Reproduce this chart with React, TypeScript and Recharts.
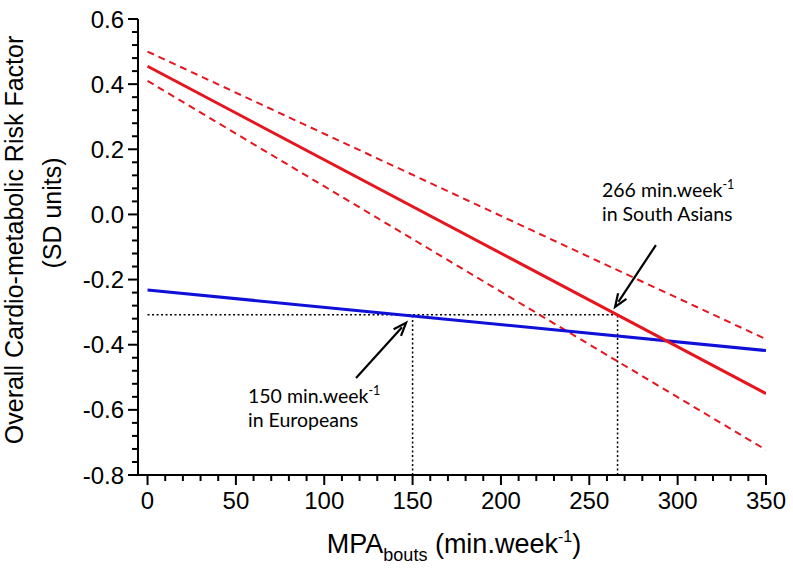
import React from 'react';
import { LineChart, Line, XAxis, YAxis, ReferenceLine } from 'recharts';

// ---- data ----
const xEnds = [0, 350];
const saFit = [0.455, -0.55];
const saUpper = [0.5, -0.383];
const saLower = [0.41, -0.723];
const euFit = [-0.232, -0.418];

const xMajorTicks = [0, 50, 100, 150, 200, 250, 300, 350];
const yMajorTicks = [-0.8, -0.6, -0.4, -0.2, 0, 0.2, 0.4, 0.6];
const yTickLabels = ['-0.8', '-0.6', '-0.4', '-0.2', '0.0', '0.2', '0.4', '0.6'];

const threshold = -0.308;
const euMinutes = 150;
const saMinutes = 266;

const euArrowTail = { x: 118, y: -0.502 };
const euArrowHead = { x: 146.3, y: -0.333 };
const saArrowTail = { x: 287.7, y: -0.094 };
const saArrowHead = { x: 264.6, y: -0.284 };

const data = xEnds.map((x, i) => ({
  x,
  saFit: saFit[i],
  saUpper: saUpper[i],
  saLower: saLower[i],
  euFit: euFit[i],
}));

function subdivide(majors: number[], n: number): number[] {
  const out: number[] = [];
  for (let i = 0; i < majors.length - 1; i++) {
    for (let k = 0; k < n; k++) {
      out.push(Number((majors[i] + ((majors[i + 1] - majors[i]) * k) / n).toFixed(5)));
    }
  }
  out.push(majors[majors.length - 1]);
  return out;
}

const xTicks = subdivide(xMajorTicks, 5);
const yTicks = subdivide(yMajorTicks, 5);

const AXIS_FONT = '"Liberation Sans", Arial, sans-serif';
const NOTE_FONT = 'Lato, "Open Sans", sans-serif';

const majorIndex = (arr: number[], v: number) => arr.findIndex((m) => Math.abs(m - v) < 1e-6);

const XTick = (props: any) => {
  const { x, y, payload } = props;
  const idx = majorIndex(xMajorTicks, payload.value);
  const major = idx >= 0;
  return (
    <g>
      <line x1={x} x2={x} y1={y} y2={y + (major ? 10 : 6)} stroke="#000" strokeWidth={2} />
      {major && (
        <text x={x} y={y + 34} textAnchor="middle" fontSize={24} fontFamily={AXIS_FONT} fill="#000">
          {xMajorTicks[idx]}
        </text>
      )}
    </g>
  );
};

const YTick = (props: any) => {
  const { x, y, payload } = props;
  const idx = majorIndex(yMajorTicks, payload.value);
  const major = idx >= 0;
  return (
    <g>
      <line x1={x} x2={x - (major ? 10 : 6)} y1={y} y2={y} stroke="#000" strokeWidth={2} />
      {major && (
        <text x={x - 14} y={y} dy="0.36em" textAnchor="end" fontSize={24} fontFamily={AXIS_FONT} fill="#000">
          {yTickLabels[idx]}
        </text>
      )}
    </g>
  );
};

const ArrowShape = (props: any) => {
  const { x1, y1, x2, y2 } = props;
  const dx = x2 - x1;
  const dy = y2 - y1;
  const len = Math.sqrt(dx * dx + dy * dy) || 1;
  const ux = dx / len;
  const uy = dy / len;
  const hl = 13;
  const hw = 5;
  const bx = x2 - ux * hl;
  const by = y2 - uy * hl;
  return (
    <g>
      <line x1={x1} y1={y1} x2={x2 - ux * 6} y2={y2 - uy * 6} stroke="#000" strokeWidth={2.2} />
      <polyline
        points={`${bx - uy * hw},${by + ux * hw} ${x2},${y2} ${bx + uy * hw},${by - ux * hw}`}
        fill="none"
        stroke="#000"
        strokeWidth={2.2}
      />
    </g>
  );
};

export default function App() {
  return (
    <div style={{ position: 'absolute', left: 0, top: 0, width: 793, height: 574, background: '#fff' }}>
      <LineChart width={793} height={574} data={data} margin={{ top: 19, right: 27, bottom: 0, left: 0 }}>
        <XAxis
          dataKey="x"
          type="number"
          domain={[-5.4, 350]}
          allowDataOverflow
          ticks={xTicks}
          interval={0}
          tick={<XTick />}
          tickLine={false}
          tickSize={0}
          tickMargin={0}
          height={99}
          axisLine={{ stroke: '#000', strokeWidth: 2 }}
        />
        <YAxis
          type="number"
          domain={[-0.8, 0.6]}
          allowDataOverflow
          ticks={yTicks}
          interval={0}
          tick={<YTick />}
          tickLine={false}
          tickSize={0}
          tickMargin={0}
          width={138}
          axisLine={{ stroke: '#000', strokeWidth: 2 }}
        />
        <ReferenceLine
          segment={[{ x: 0, y: threshold }, { x: saMinutes, y: threshold }]}
          stroke="#000"
          strokeWidth={1.5}
          strokeDasharray="2 2.5"
        />
        <ReferenceLine
          segment={[{ x: euMinutes, y: -0.8 }, { x: euMinutes, y: threshold }]}
          stroke="#000"
          strokeWidth={1.5}
          strokeDasharray="2 2.5"
        />
        <ReferenceLine
          segment={[{ x: saMinutes, y: -0.8 }, { x: saMinutes, y: threshold }]}
          stroke="#000"
          strokeWidth={1.5}
          strokeDasharray="2 2.5"
        />
        <Line dataKey="saUpper" stroke="#e5161d" strokeWidth={2} strokeDasharray="7 5" dot={false} isAnimationActive={false} />
        <Line dataKey="saLower" stroke="#e5161d" strokeWidth={2} strokeDasharray="7 5" dot={false} isAnimationActive={false} />
        <Line dataKey="euFit" stroke="#1010d8" strokeWidth={3} dot={false} isAnimationActive={false} />
        <Line dataKey="saFit" stroke="#e5161d" strokeWidth={3} dot={false} isAnimationActive={false} />
        <ReferenceLine segment={[euArrowTail, euArrowHead]} shape={ArrowShape} />
        <ReferenceLine segment={[saArrowTail, saArrowHead]} shape={ArrowShape} />
      </LineChart>
      <svg
        width={793}
        height={574}
        style={{ position: 'absolute', left: 0, top: 0, pointerEvents: 'none' }}
      >
        {/* Y axis title */}
        <text
          transform="translate(23,240) rotate(-90)"
          textAnchor="middle"
          fontSize={25}
          fontFamily={AXIS_FONT}
          fill="#000"
        >
          Overall Cardio-metabolic Risk Factor
        </text>
        <text
          transform="translate(61,213) rotate(-90)"
          textAnchor="middle"
          fontSize={25}
          fontFamily={AXIS_FONT}
          fill="#000"
        >
          (SD units)
        </text>
        {/* X axis title */}
        <text x={454} y={553} textAnchor="middle" fontSize={27} fontFamily={AXIS_FONT} fill="#000">
          MPA
          <tspan fontSize={18} dy={8}>bouts</tspan>
          <tspan fontSize={27} dy={-8}> (min.week</tspan>
          <tspan fontSize={16} dy={-11}>-1</tspan>
          <tspan fontSize={27} dy={11}>)</tspan>
        </text>
        {/* annotations */}
        <text x={602} y={197} fontSize={19.5} fontFamily={NOTE_FONT} fill="#000">
          266 min.week<tspan fontSize={12.5} dy={-8}>-1</tspan>
        </text>
        <text x={602} y={221} fontSize={19.5} fontFamily={NOTE_FONT} fill="#000">
          in South Asians
        </text>
        <text x={248} y={403} fontSize={19.5} fontFamily={NOTE_FONT} fill="#000">
          150 min.week<tspan fontSize={12.5} dy={-8}>-1</tspan>
        </text>
        <text x={248} y={427} fontSize={19.5} fontFamily={NOTE_FONT} fill="#000">
          in Europeans
        </text>
      </svg>
    </div>
  );
}
